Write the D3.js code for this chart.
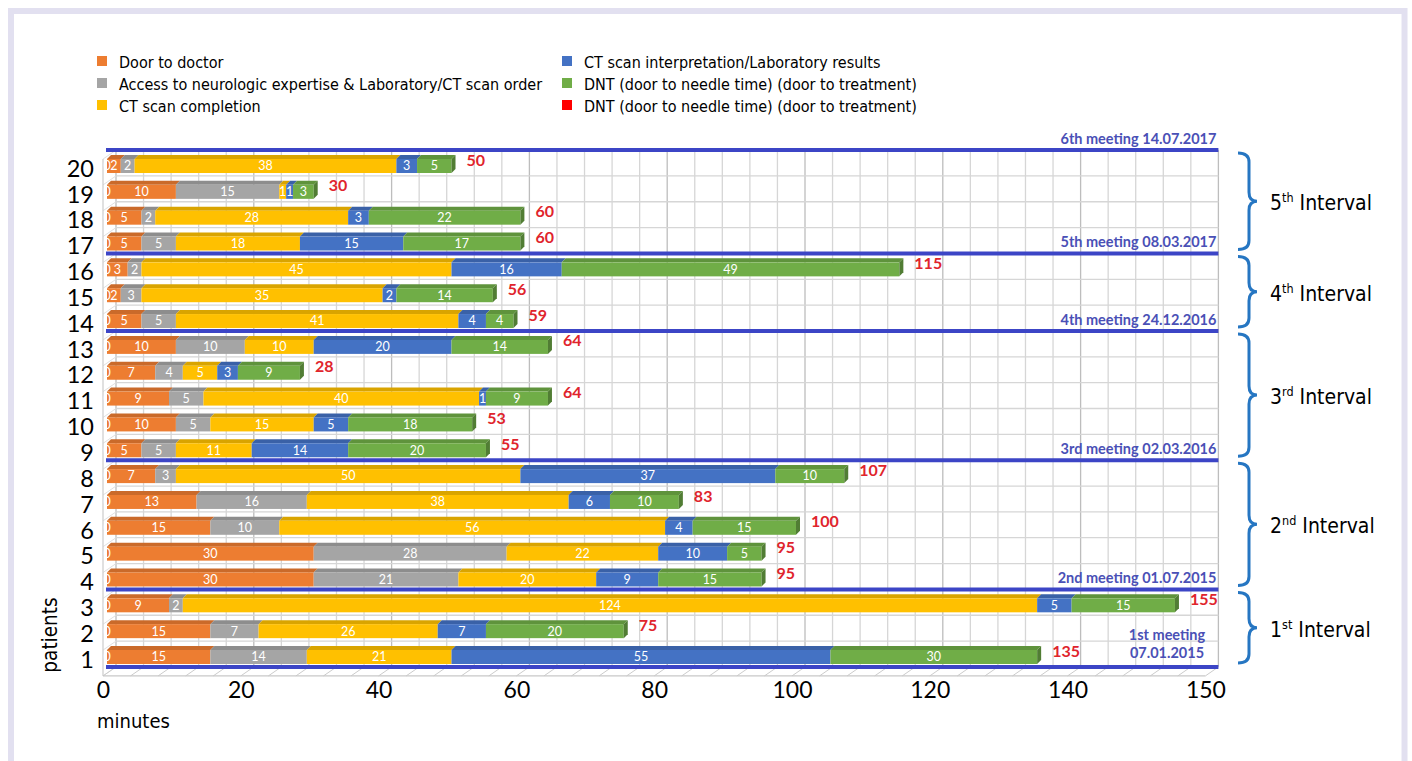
<!DOCTYPE html>
<html>
<head>
<meta charset="utf-8">
<script src="https://cdn.jsdelivr.net/npm/d3@7"></script>
<style>
  html, body { margin: 0; padding: 0; background: #fff; }
  svg { display: block; }
</style>
</head>
<body>
<svg id="chart" width="1412" height="761"></svg>
<script>
// ---- data: minutes spent in each step of the stroke pathway, per patient ----
const patients         = d3.range(1, 21);
const doorToDoctor     = [15, 15, 9, 30, 30, 15, 13, 7, 5, 10, 9, 7, 10, 5, 2, 3, 5, 5, 10, 2];
const neuroAccess      = [14, 7, 2, 21, 28, 10, 16, 3, 5, 5, 5, 4, 10, 5, 3, 2, 5, 2, 15, 2];
const ctCompletion     = [21, 26, 124, 20, 22, 56, 38, 50, 11, 15, 40, 5, 10, 41, 35, 45, 18, 28, 1, 38];
const ctInterpretation = [55, 7, 5, 9, 10, 4, 6, 37, 14, 5, 1, 3, 20, 4, 2, 16, 15, 3, 1, 3];
const dntTreatment     = [30, 20, 15, 15, 5, 15, 10, 10, 20, 18, 9, 9, 14, 4, 14, 49, 17, 22, 3, 5];
const startMarker      = [0, 0, 0, 0, 0, 0, 0, 0, 0, 0, 0, 0, 0, 0, 0, 0, 0, 0, 0, 0];

const seriesNames = [
  "Door to doctor",
  "Access to neurologic expertise & Laboratory/CT scan order",
  "CT scan completion",
  "CT scan interpretation/Laboratory results",
  "DNT (door to needle time) (door to treatment)",
  "DNT (door to needle time) (door to treatment)"
];
const seriesColors = ["#ED7D31", "#A5A5A5", "#FFC000", "#4472C4", "#70AD47", "#FF0000"];

const xTickValues = [0, 20, 40, 60, 80, 100, 120, 140, 160];
const xTickLabels = ["0", "20", "40", "60", "80", "100", "120", "140", "150"];

const meetingLabels = [
  "1st meeting 07.01.2015",
  "2nd meeting 01.07.2015",
  "3rd meeting 02.03.2016",
  "4th meeting 24.12.2016",
  "5th meeting 08.03.2017",
  "6th meeting 14.07.2017"
];
const intervalNumbers  = ["1", "2", "3", "4", "5"];
const intervalSuffixes = ["st", "nd", "rd", "th", "th"];
const intervalFirst    = [1, 4, 9, 14, 17];
const intervalLast     = [3, 8, 13, 16, 20];

// ---- layout ----
const svg = d3.select("#chart");
const W = 1412, H = 761;
const FONT_TXT = "'DejaVu Sans Condensed', 'DejaVu Sans', sans-serif";
const FONT_NUM = "Lato, 'Open Sans', sans-serif";

// bar plane scale; the back wall and front edge are shifted for the 3-D look
const x = d3.scaleLinear().domain([0, 160]).range([107, 107 + 160 * 6.89]);
const xFront = d3.scaleLinear().domain([0, 160]).range([103, 103 + 160 * 6.89]);
const y = d3.scaleLinear().domain([1, 20]).range([659, 168]);
const BACK = { dx: 9, dy: -5 };
const FRONT = { dx: -4, dy: 4 };
const yBack = p => y(p) + BACK.dy;
const xBack = v => x(v) + BACK.dx;

// outer frame
svg.append("rect").attr("x", 0).attr("y", 0).attr("width", W).attr("height", H).attr("fill", "#fff");
svg.append("rect")
  .attr("x", 11).attr("y", 11).attr("width", 1393.5).attr("height", H + 20)
  .attr("fill", "none").attr("stroke", "#e2e0f0").attr("stroke-width", 6);

// ---- walls & grid ----
const grid = svg.append("g");
const topP = 20.5, botP = 0.5;
// vertical back wall grid
d3.range(0, 161, 4).forEach(v => {
  grid.append("line")
    .attr("x1", xBack(v)).attr("x2", xBack(v))
    .attr("y1", yBack(topP)).attr("y2", yBack(botP))
    .attr("stroke", v % 20 === 0 ? "#bdbdbd" : "#d6d6d6").attr("stroke-width", 1.3);
});
// horizontal back wall grid
d3.range(0, 21).forEach(k => {
  const p = k + 0.5;
  grid.append("line")
    .attr("x1", xBack(0)).attr("x2", xBack(160))
    .attr("y1", yBack(p)).attr("y2", yBack(p))
    .attr("stroke", "#d6d6d6").attr("stroke-width", 1.3);
  // side wall diagonals
  grid.append("line")
    .attr("x1", x(0) + FRONT.dx).attr("y1", y(p) + FRONT.dy)
    .attr("x2", xBack(0)).attr("y2", yBack(p))
    .attr("stroke", "#e0e0e0").attr("stroke-width", 1);
});
grid.append("line")
  .attr("x1", x(0) + FRONT.dx).attr("x2", x(0) + FRONT.dx)
  .attr("y1", y(topP) + FRONT.dy).attr("y2", y(botP) + FRONT.dy)
  .attr("stroke", "#d0d0d0").attr("stroke-width", 1.3);
// floor
d3.range(0, 161, 4).forEach(v => {
  grid.append("line")
    .attr("x1", xBack(v)).attr("y1", yBack(botP))
    .attr("x2", xFront(v)).attr("y2", y(botP) + FRONT.dy)
    .attr("stroke", "#cccccc").attr("stroke-width", 1);
});
grid.append("line")
  .attr("x1", xFront(0)).attr("x2", xFront(160))
  .attr("y1", y(botP) + FRONT.dy).attr("y2", y(botP) + FRONT.dy)
  .attr("stroke", "#c8c8c8").attr("stroke-width", 1.3);

// ---- meeting lines ----
const meetingPositions = [intervalFirst[0] - 0.5].concat(intervalLast.map(d => d + 0.5));
const meet = svg.append("g");
meetingPositions.forEach((p, i) => {
  meet.append("line")
    .attr("x1", x(0) - 1).attr("x2", xBack(160))
    .attr("y1", yBack(p)).attr("y2", yBack(p))
    .attr("stroke", "#3c45c6").attr("stroke-width", 4);
});

// ---- stacked 3-D bars ----
const stackSeries = [doorToDoctor, neuroAccess, ctCompletion, ctInterpretation, dntTreatment];
const rows = patients.map((p, i) => {
  let acc = 0;
  const segs = stackSeries.map((s, k) => {
    const seg = { k, v: s[i], x0: acc, x1: acc + s[i] };
    acc += s[i];
    return seg;
  });
  return { p, i, segs, total: acc + startMarker[i] };
});

const BAR_TOP = -9, BAR_BOT = 5, DEPTH_X = 4, DEPTH_Y = 4;
const bars = svg.append("g");
rows.slice().reverse().forEach(r => {
  const yc = y(r.p);
  const g = bars.append("g");
  const t = yc + BAR_TOP, b = yc + BAR_BOT;
  r.segs.forEach(s => {
    if (s.v <= 0) return;
    const c = seriesColors[s.k];
    g.append("path")
      .attr("d", `M${x(s.x0)},${t} L${x(s.x1)},${t} L${x(s.x1) + DEPTH_X},${t - DEPTH_Y} L${x(s.x0) + DEPTH_X},${t - DEPTH_Y} Z`)
      .attr("fill", d3.color(c).darker(0.45));
  });
  r.segs.forEach(s => {
    if (s.v <= 0) return;
    g.append("rect")
      .attr("x", x(s.x0)).attr("y", t)
      .attr("width", x(s.x1) - x(s.x0)).attr("height", b - t)
      .attr("fill", seriesColors[s.k]);
  });
  const last = r.segs[r.segs.length - 1];
  g.append("path")
    .attr("d", `M${x(last.x1)},${t} L${x(last.x1) + DEPTH_X},${t - DEPTH_Y} L${x(last.x1) + DEPTH_X},${b - DEPTH_Y} L${x(last.x1)},${b} Z`)
    .attr("fill", d3.color(seriesColors[last.k]).darker(0.9));

  // value labels
  g.append("text")
    .attr("x", x(0)).attr("y", yc - 2).attr("dy", "0.35em")
    .attr("text-anchor", "middle")
    .attr("font-family", FONT_NUM).attr("font-size", 12.5).attr("fill", "#fff")
    .text(startMarker[r.i]);
  r.segs.forEach(s => {
    if (s.v <= 0) return;
    g.append("text")
      .attr("x", (x(s.x0) + x(s.x1)) / 2).attr("y", yc - 2).attr("dy", "0.35em")
      .attr("text-anchor", "middle")
      .attr("font-family", FONT_NUM).attr("font-size", 12.5).attr("fill", "#fff")
      .text(s.v);
  });
  g.append("text")
    .attr("x", x(r.total) + 15).attr("y", yc - 8).attr("dy", "0.35em")
    .attr("font-family", FONT_NUM).attr("font-weight", "bold")
    .attr("font-size", 16).attr("fill", "#e0242c")
    .text(r.total);
});

// ---- meeting labels ----
meetingPositions.forEach((p, i) => {
  const ly = yBack(p);
  if (i === 0) {
    const t = meet.append("text")
      .attr("x", 1167).attr("y", ly - 27)
      .attr("text-anchor", "middle")
      .attr("font-family", FONT_NUM).attr("font-weight", "bold")
      .attr("font-size", 14.5).attr("fill", "#4a50b6");
    const parts = meetingLabels[i].split(" ");
    t.append("tspan").attr("x", 1167).text(parts.slice(0, 2).join(" "));
    t.append("tspan").attr("x", 1167).attr("dy", 18).text(parts[2]);
  } else {
    meet.append("text")
      .attr("x", xBack(160) - 2).attr("y", ly - 6)
      .attr("text-anchor", "end")
      .attr("font-family", FONT_NUM).attr("font-weight", "bold")
      .attr("font-size", 14.5).attr("fill", "#4a50b6")
      .text(meetingLabels[i]);
  }
});

// ---- axes ----
const xAxis = d3.axisBottom(xFront)
  .tickValues(xTickValues)
  .tickFormat((d, i) => xTickLabels[i])
  .tickSize(0).tickPadding(0);
const gx = svg.append("g").attr("transform", `translate(0,${y(botP) + FRONT.dy})`).call(xAxis);
gx.select(".domain").remove();
gx.selectAll("text")
  .attr("y", 6).attr("dy", "0.71em")
  .attr("font-family", FONT_NUM).attr("font-size", 23).attr("fill", "#000");

const yAxis = d3.axisLeft(y).tickValues(patients).tickSize(0).tickPadding(0);
const gy = svg.append("g").attr("transform", "translate(0,0)").call(yAxis);
gy.select(".domain").remove();
gy.selectAll("text")
  .attr("x", 94).attr("dy", "0.35em")
  .attr("text-anchor", "end")
  .attr("font-family", FONT_NUM).attr("font-size", 23.5).attr("fill", "#000");

svg.append("text")
  .attr("x", 97).attr("y", 728)
  .attr("font-family", FONT_TXT).attr("font-size", 20).attr("fill", "#000")
  .text("minutes");
svg.append("text")
  .attr("transform", "translate(57,635) rotate(-90)")
  .attr("text-anchor", "middle")
  .attr("font-family", FONT_TXT).attr("font-size", 20.5).attr("fill", "#000")
  .text("patients");

// ---- interval braces ----
const braces = svg.append("g");
intervalFirst.forEach((f, i) => {
  const top = yBack(intervalLast[i] + 0.5) + 3;
  const bot = yBack(f - 0.5) - 4;
  const mid = (top + bot) / 2;
  const x0 = 1238, xm = 1249, xt = 1257, r = 9;
  braces.append("path")
    .attr("d", `M${x0},${top} Q${xm},${top} ${xm},${top + r} L${xm},${mid - r} Q${xm},${mid} ${xt},${mid} Q${xm},${mid} ${xm},${mid + r} L${xm},${bot - r} Q${xm},${bot} ${x0},${bot}`)
    .attr("fill", "none").attr("stroke", "#2676c2").attr("stroke-width", 3);
  const t = braces.append("text")
    .attr("x", 1270).attr("y", mid + 9)
    .attr("font-family", FONT_TXT).attr("font-size", 21).attr("fill", "#000");
  t.append("tspan").text(intervalNumbers[i]);
  t.append("tspan").attr("font-size", 12.5).attr("dy", -8).text(intervalSuffixes[i]);
  t.append("tspan").attr("dy", 8).text(" Interval");
});

// ---- legend ----
const legend = svg.append("g");
seriesNames.forEach((name, i) => {
  const col = Math.floor(i / 3), row = i % 3;
  const lx = col === 0 ? 97 : 562;
  const ly = 62 + row * 22;
  legend.append("rect")
    .attr("x", lx).attr("y", ly - 6).attr("width", 10).attr("height", 10)
    .attr("fill", seriesColors[i]);
  legend.append("text")
    .attr("x", lx + 22).attr("y", ly).attr("dy", "0.35em")
    .attr("font-family", FONT_TXT).attr("font-size", 16).attr("fill", "#000")
    .text(name);
});
</script>
</body>
</html>
